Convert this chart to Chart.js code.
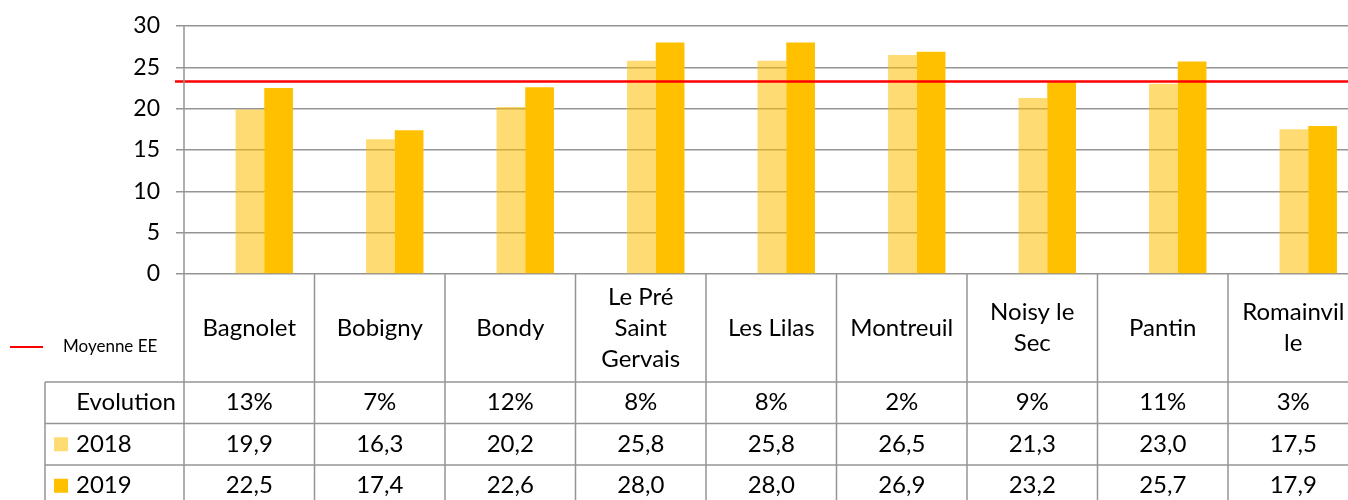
<!DOCTYPE html>
<html lang="fr">
<head>
<meta charset="UTF-8">
<title>Moyenne EE</title>
<script src="https://cdn.jsdelivr.net/npm/chart.js"></script>
<style>
  html, body { margin: 0; padding: 0; overflow: hidden; background: #fff; }
  #wrap { width: 1380px; height: 500px; }
</style>
</head>
<body>
<div id="wrap"><canvas id="myChart" width="1380" height="500"></canvas></div>
<script>
// data
const categories = ['Bagnolet', 'Bobigny', 'Bondy', ['Le Pré', 'Saint', 'Gervais'], 'Les Lilas',
                    'Montreuil', ['Noisy le', 'Sec'], 'Pantin', ['Romainvil', 'le']];
const values2018 = [19.9, 16.3, 20.2, 25.8, 25.8, 26.5, 21.3, 23.0, 17.5];
const values2019 = [22.5, 17.4, 22.6, 28.0, 28.0, 26.9, 23.2, 25.7, 17.9];
const evolution = ['13%', '7%', '12%', '8%', '8%', '2%', '9%', '11%', '3%'];
const moyenneEE = 23.3;
const seriesNames = ['2018', '2019'];
const yMin = 0, yMax = 30, yStep = 5;

const FONT = 'Lato, "Open Sans", sans-serif';
const lightColor = 'rgba(255, 192, 0, 0.55)';
const darkColor = '#FFC000';
const lineGray = '#959595';

// Excel data table under the plot
const tablePlugin = {
    id: 'dataTable',
    afterDraw(chart) {
        const ctx = chart.ctx, x = chart.scales.x, ca = chart.chartArea;
        const colW = x.getPixelForValue(1) - x.getPixelForValue(0);
        const shift = 15;
        const colCenter = i => x.getPixelForValue(i) - shift;
        const edge = i => colCenter(i) - colW / 2;
        const tableLeft = 45, headerBottom = 382, rowH = 41.5;
        const right = chart.width;

        ctx.save();
        ctx.strokeStyle = lineGray;
        ctx.lineWidth = 1.5;
        ctx.beginPath();
        // first column line goes up to the top of the plot
        ctx.moveTo(edge(0), ca.top);
        ctx.lineTo(edge(0), 500);
        for (let i = 1; i <= categories.length; i++) {
            ctx.moveTo(edge(i), ca.bottom);
            ctx.lineTo(edge(i), 500);
        }
        for (let r = 0; r < 4; r++) {
            const yy = headerBottom + r * rowH;
            ctx.moveTo(tableLeft, yy);
            ctx.lineTo(right, yy);
        }
        ctx.moveTo(tableLeft, headerBottom);
        ctx.lineTo(tableLeft, 500);
        ctx.stroke();

        ctx.fillStyle = '#000';
        ctx.textAlign = 'center';
        ctx.textBaseline = 'middle';
        ctx.font = '24px ' + FONT;

        // header with category names
        const headerMid = (ca.bottom + headerBottom) / 2;
        categories.forEach((c, i) => {
            const lines = Array.isArray(c) ? c : [c];
            const lh = 31;
            const y0 = headerMid - (lines.length - 1) * lh / 2;
            lines.forEach((l, k) => ctx.fillText(l, colCenter(i), y0 + k * lh));
        });

        // rows
        const rowMid = r => headerBottom + rowH * r + rowH / 2;
        const fmt = v => v.toFixed(1).replace('.', ',');
        categories.forEach((c, i) => {
            ctx.fillText(evolution[i], colCenter(i), rowMid(0));
            ctx.fillText(fmt(values2018[i]), colCenter(i), rowMid(1));
            ctx.fillText(fmt(values2019[i]), colCenter(i), rowMid(2));
        });

        ctx.textAlign = 'right';
        ctx.fillText('Evolution', edge(0) - 8, rowMid(0));
        ctx.textAlign = 'left';
        [lightColor, darkColor].forEach((col, k) => {
            ctx.fillStyle = col;
            ctx.fillRect(54, rowMid(k + 1) - 7, 14, 14);
            ctx.fillStyle = '#000';
            ctx.fillText(seriesNames[k], 76, rowMid(k + 1));
        });

        // legend for the average line
        ctx.strokeStyle = '#FF0000';
        ctx.lineWidth = 2;
        ctx.beginPath();
        ctx.moveTo(10, 347);
        ctx.lineTo(43, 347);
        ctx.stroke();
        ctx.font = '17px ' + FONT;
        ctx.fillText('Moyenne EE', 63, 347);
        ctx.restore();
    },
    afterDatasetsDraw(chart) {
        const ctx = chart.ctx, y = chart.scales.y;
        const yy = y.getPixelForValue(moyenneEE);
        ctx.save();
        ctx.strokeStyle = '#FF0000';
        ctx.lineWidth = 2.5;
        ctx.beginPath();
        ctx.moveTo(175, yy);
        ctx.lineTo(chart.width, yy);
        ctx.stroke();
        ctx.restore();
    }
};

const ctx = document.getElementById('myChart').getContext('2d');
new Chart(ctx, {
    type: 'bar',
    data: {
        labels: categories,
        datasets: [
            { label: seriesNames[0], data: values2018, backgroundColor: lightColor,
              categoryPercentage: 0.44, barPercentage: 1 },
            { label: seriesNames[1], data: values2019, backgroundColor: darkColor,
              categoryPercentage: 0.44, barPercentage: 1 }
        ]
    },
    options: {
        responsive: false,
        animation: false,
        devicePixelRatio: 1,
        layout: { padding: { top: 26, bottom: 226, right: 6.5, left: 0 } },
        plugins: { legend: { display: false }, tooltip: { enabled: false } },
        scales: {
            x: { display: false },
            y: {
                min: yMin, max: yMax,
                afterFit: s => { s.width = 199; s.paddingTop = 0; s.paddingBottom = 0; },
                ticks: { stepSize: yStep, color: '#000', padding: 16, font: { family: FONT, size: 23 } },
                grid: { color: lineGray, lineWidth: 1.5, tickLength: 23 },
                border: { display: false }
            }
        }
    },
    plugins: [tablePlugin]
});
</script>
</body>
</html>
